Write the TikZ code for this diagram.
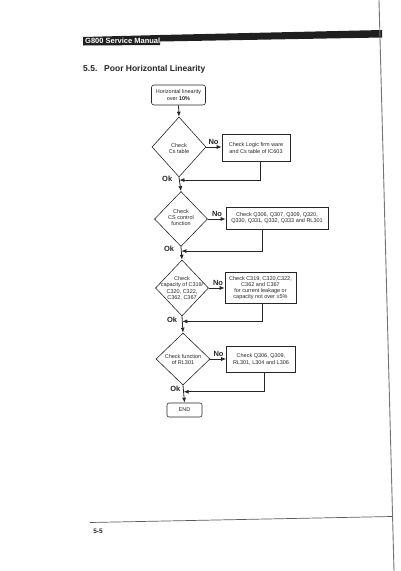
\documentclass[tikz,border=0pt]{standalone}
\usepackage{fontspec}
\setmainfont{Liberation Sans}
\usetikzlibrary{shapes.geometric,arrows.meta,calc}
\begin{document}
\begin{tikzpicture}[x=1pt,y=-1pt,
  txt/.style={font=\fontsize{5.5}{6.3}\selectfont, align=center, inner sep=0pt, text=black!85},
  box/.style={draw=black!85, line width=0.6pt, inner sep=1pt, align=center, font=\fontsize{5.5}{6.3}\selectfont, text=black!85},
  dia/.style={draw=black!85, line width=0.6pt, diamond, inner sep=0pt},
  arr/.style={draw=black!85, line width=0.8pt, -{Latex[length=5pt,width=4pt]}},
  lbl/.style={font=\fontsize{7.5}{8}\selectfont\bfseries, inner sep=0pt, text=black!85}]
\useasboundingbox (0,0) rectangle (400,571);

% header and page furniture
\fill[black!88] (83,37) -- (160,35) -- (382,30) -- (382,37.5) -- (160,41.5) -- (160,45) -- (83,45.5) -- cycle;
\node[font=\fontsize{7.5}{8}\selectfont\bfseries, text=white, anchor=west, inner sep=0pt] (hdr) at (85,41.2) {G800 Service Manual};
\node[anchor=base west, font=\fontsize{8.5}{9}\selectfont\bfseries, inner sep=0pt, text=black!85] (sec) at (83,71) {5.5.};
\node[anchor=base west, font=\fontsize{8.5}{9}\selectfont\bfseries, inner sep=0pt, text=black!85] (title) at (104,71) {Poor Horizontal Linearity};
\draw[black!55, line width=0.9pt] (379,0) -- (394,571);
\draw[black!65, line width=0.7pt] (90,522.5) -- (392,516.5);
\node[font=\fontsize{6.5}{7}\selectfont\bfseries, inner sep=0pt, text=black!85] (pg) at (98,531) {5-5};

% flowchart nodes
\node[box, rounded corners=2.5pt, minimum width=54pt, minimum height=20pt] (start) at (178.5,95) {Horizontal linearity\\over \textbf{10\%}};

\node[dia, minimum width=54pt, minimum height=60pt] (d1) at (179,147) {};
\node[txt] (t1) at (179,148.5) {Check\\Cs table};
\node[box, minimum width=68pt, minimum height=27pt] (b1) at (256,148) {Check Logic firm ware\\and Cs table of IC603};

\node[dia, minimum width=53pt, minimum height=55pt] (d2) at (181,219) {};
\node[txt] (t2) at (181,217.5) {Check\\CS control\\function};
\node[box, minimum width=102pt, minimum height=22pt] (b2) at (277,218) {Check Q306, Q307, Q309, Q320,\\Q330, Q331, Q332, Q333 and RL301};

\node[dia, minimum width=53pt, minimum height=56pt] (d3) at (182,288) {};
\node[txt] (t3) at (182,288.5) {Check\\capacity of C319/\\C320, C322,\\C362, C367};
\node[box, minimum width=71pt, minimum height=31pt, font=\fontsize{5.5}{6}\selectfont] (b3) at (260.5,288) {Check C319, C320,C322,\\C362 and C367\\for current leakage or\\capacity not over ±5\%};

\node[dia, minimum width=54pt, minimum height=52pt] (d4) at (183,359) {};
\node[txt] (t4) at (183,359.5) {Check function\\of RL301};
\node[box, minimum width=69pt, minimum height=26pt] (b4) at (261,359.5) {Check Q306, Q309,\\RL301, L304 and L306};

\node[box, rounded corners=2pt, minimum width=35pt, minimum height=14pt] (end) at (184.5,410) {END};

% junction points on the main line
\path (d1.south) -- coordinate[pos=0.2] (j1) (d2.north);
\path (d2.south) -- coordinate[pos=0.33] (j2) (d3.north);
\path (d3.south) -- coordinate[pos=0.31] (j3) (d4.north);
\path (d4.south) -- coordinate[pos=0.37] (j4) (end.north);

% main line
\draw[arr] (start.south) -- (d1.north);
\draw[arr] (d1.south) -- (d2.north);
\draw[arr] (d2.south) -- (d3.north);
\draw[arr] (d3.south) -- (d4.north);
\draw[arr] (d4.south) -- (end.north);

% No branches
\draw[arr] (d1.east) -- (d1.east -| b1.west);
\draw[arr] (d2.east) -- (d2.east -| b2.west);
\draw[arr] (d3.east) -- (d3.east -| b3.west);
\draw[arr] (d4.east) -- (d4.east -| b4.west);
\node[lbl, anchor=south west] (n1) at ([xshift=2pt,yshift=2pt]d1.east) {No};
\node[lbl, anchor=south west] (n2) at ([xshift=4pt,yshift=2pt]d2.east) {No};
\node[lbl, anchor=south west] (n3) at ([xshift=4pt,yshift=2pt]d3.east) {No};
\node[lbl, anchor=south west] (n4) at ([xshift=3pt,yshift=2pt]d4.east) {No};

% feedback lines
\draw[arr] ([xshift=4pt]b1.south) |- (j1);
\draw[arr] ([xshift=-15pt]b2.south) |- (j2);
\draw[arr] ([xshift=1.5pt]b3.south) |- (j3);
\draw[arr] ([xshift=3pt]b4.south) |- (j4);

% Ok labels
\node[lbl, anchor=east] (o1) at ([xshift=-7pt,yshift=1.5pt]j1) {Ok};
\node[lbl, anchor=east] (o2) at ([xshift=-7pt,yshift=2pt]j2) {Ok};
\node[lbl, anchor=east] (o3) at ([xshift=-5pt,yshift=1.5pt]j3) {Ok};
\node[lbl, anchor=east] (o4) at ([xshift=-3pt,yshift=2.5pt]j4) {Ok};
\end{tikzpicture}
\end{document}
